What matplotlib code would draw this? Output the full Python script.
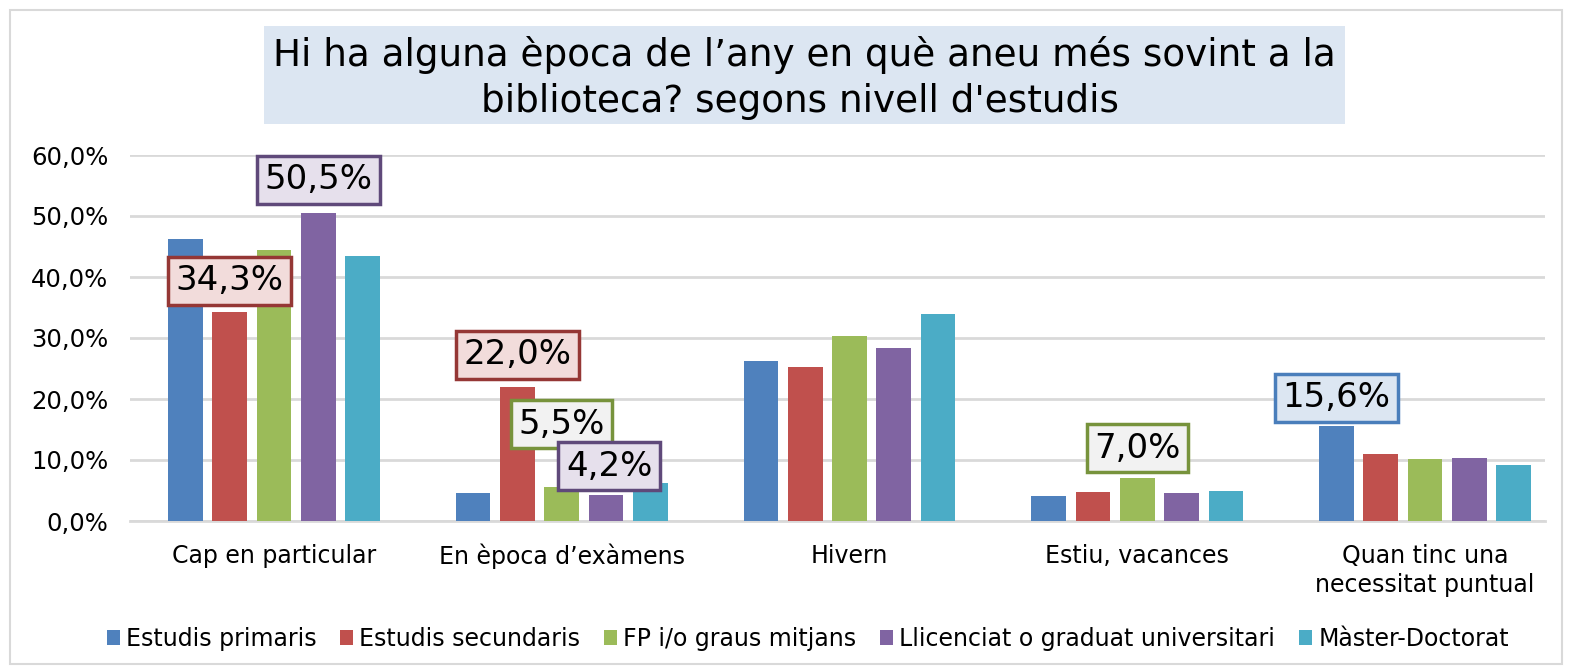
import numpy as np
import matplotlib
matplotlib.use("Agg")
import matplotlib.pyplot as plt
from matplotlib.patches import Rectangle

# dades
categories = ["Cap en particular", "En època d’exàmens", "Hivern",
              "Estiu, vacances", "Quan tinc una\nnecessitat puntual"]
series_names = ["Estudis primaris", "Estudis secundaris", "FP i/o graus mitjans",
                "Llicenciat o graduat universitari", "Màster-Doctorat"]
primaris = [46.3, 4.6, 26.2, 4.1, 15.6]
secundaris = [34.3, 22.0, 25.3, 4.7, 11.0]
fp = [44.5, 5.5, 30.4, 7.0, 10.2]
llicenciat = [50.5, 4.2, 28.4, 4.6, 10.3]
master = [43.4, 6.2, 34.0, 5.0, 9.2]

# etiquetes destacades: (serie, categoria)
highlighted = [(3, 0), (1, 0), (1, 1), (2, 1), (3, 1), (2, 3), (0, 4)]
# desplaçament de l'etiqueta sobre la barra (px)
label_dy = {(3, 0): 33, (1, 0): 31, (1, 1): 32, (2, 1): 63, (3, 1): 29, (2, 3): 30, (0, 4): 28}
label_dx = {(3, 1): 3}

colors = ["#4F81BD", "#C0504D", "#9BBB59", "#8064A2", "#4BACC6"]
edge_cols = ["#4A7EBB", "#953735", "#77933C", "#5F497A", "#31859C"]
face_cols = ["#DCE6F2", "#F2DCDB", "#F2F2F2", "#E6E0EC", "#DBEEF4"]

data = [primaris, secundaris, fp, llicenciat, master]

plt.rcParams["font.family"] = "DejaVu Sans"
W, H = 1576, 669
fig = plt.figure(figsize=(W / 100, H / 100), dpi=100)
ax = fig.add_axes([130 / W, 1 - 521 / H, 1415 / W, 366 / H])

# marc exterior
fig.patches.append(Rectangle((10 / W, 5 / H), 1552 / W, 654 / H, transform=fig.transFigure,
                             fill=False, edgecolor="#D9D9D9", linewidth=1.5))

x = np.arange(len(categories))
w = 0.1206
step = 0.154
for i, vals in enumerate(data):
    ax.bar(x + (i - 2) * step, vals, width=w, color=colors[i], label=series_names[i], zorder=3)

for si, ci in highlighted:
    v = data[si][ci]
    ax.annotate(f"{v:.1f}%".replace(".", ","), (x[ci] + (si - 2) * step, v),
                xytext=(label_dx.get((si, ci), 0) * 0.72, label_dy[(si, ci)] * 0.72),
                textcoords="offset points",
                ha="center", va="center", fontsize=24.5, zorder=5,
                bbox=dict(boxstyle="square,pad=0.22", fc=face_cols[si],
                          ec=edge_cols[si], lw=2.5))

ax.set_ylim(0, 60)
ax.set_xlim(-0.5004, -0.5004 + 1415 / 287.75)
ax.set_yticks(np.arange(0, 61, 10))
ax.set_yticklabels([f"{t:.1f}%".replace(".", ",") for t in np.arange(0, 61, 10)], fontsize=17.5)
ax.set_xticks(x)
ax.set_xticklabels(categories, fontsize=17, linespacing=1.25)
ax.tick_params(axis="both", length=0)
ax.tick_params(axis="x", pad=16.5)
ax.tick_params(axis="y", pad=15.5)
ax.grid(axis="y", color="#D9D9D9", linewidth=2, zorder=0)
for s in ["top", "right", "left"]:
    ax.spines[s].set_visible(False)
ax.spines["bottom"].set_color("#D9D9D9")
ax.spines["bottom"].set_linewidth(2)

# títol
fig.patches.append(Rectangle((264 / W, 1 - 124 / H), 1081 / W, 98 / H, transform=fig.transFigure,
                             facecolor="#DCE6F2", edgecolor="none", zorder=0))
fig.text(804 / W, 1 - 66 / H, "Hi ha alguna època de l’any en què aneu més sovint a la",
         ha="center", va="baseline", fontsize=26.9)
fig.text(800 / W, 1 - 112 / H, "biblioteca? segons nivell d'estudis",
         ha="center", va="baseline", fontsize=26.9)

ax.legend(loc="center", bbox_to_anchor=(0.479, -0.322), ncol=5, frameon=False, fontsize=17,
          handlelength=0.55, handleheight=0.55, handletextpad=0.25, columnspacing=1.02)

fig.savefig("out.png", dpi=100)
